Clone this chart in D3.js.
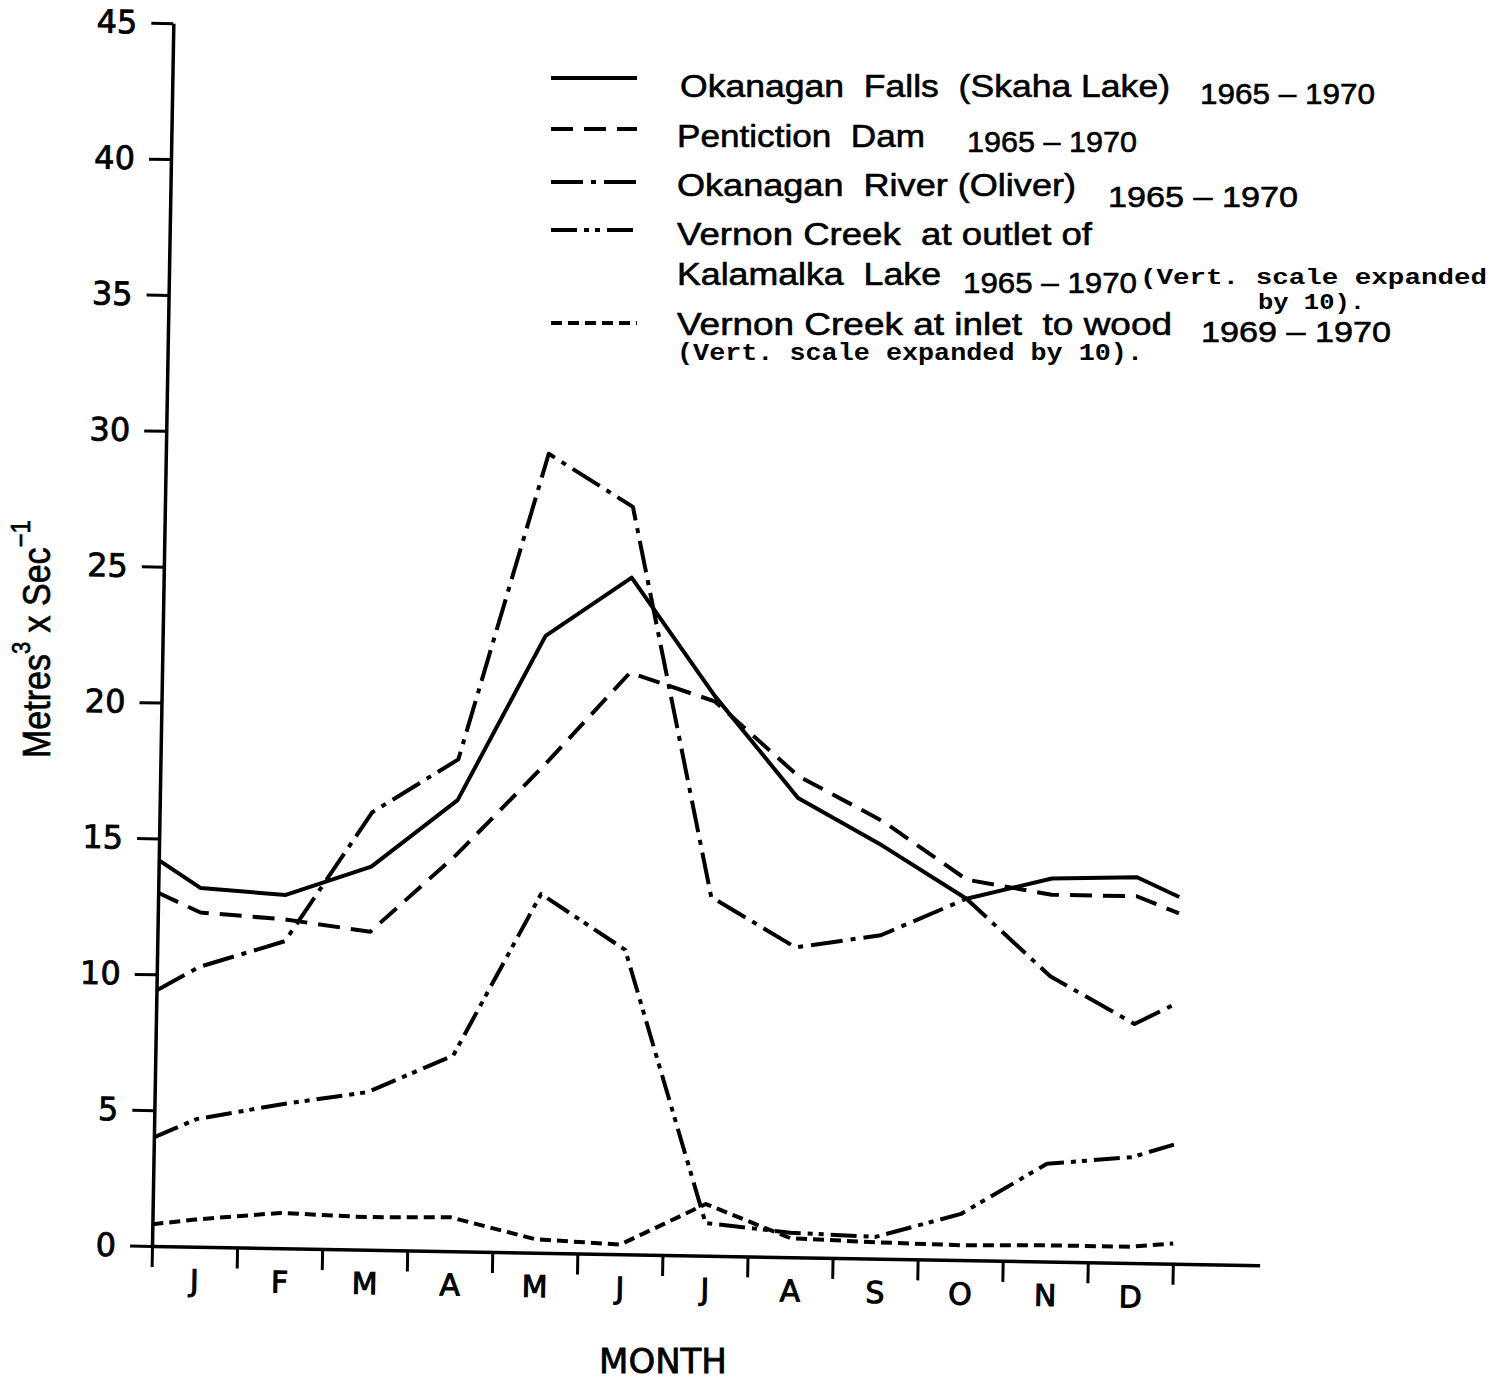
<!DOCTYPE html>
<html>
<head>
<meta charset="utf-8">
<script src="https://cdn.jsdelivr.net/npm/d3@7"></script>
<style>
  html, body { margin: 0; padding: 0; background: #ffffff; }
  svg { display: block; }
  text { white-space: pre; }
</style>
</head>
<body>
<svg id="chart" width="1509" height="1380"></svg>
<script>
// ---------------- DATA ----------------
const monthLabels = ["J", "F", "M", "A", "M", "J", "J", "A", "S", "O", "N", "D"];
// sample positions in month units (0 = start of January, 12 = end of December)
const monthPositions = [0, 0.5, 1.5, 2.5, 3.5, 4.5, 5.5, 6.5, 7.5, 8.5, 9.5, 10.5, 11.5, 12];
const yTickValues = [0, 5, 10, 15, 20, 25, 30, 35, 40, 45];

const okanaganFalls   = [14.2, 13.2, 13.0, 14.1, 16.6, 22.7, 24.9, 20.6, 16.9, 15.2, 13.3, 14.1, 14.2, 13.5];
const pentictonDam    = [13.0, 12.3, 12.1, 11.7, 14.6, 17.9, 21.4, 20.4, 17.7, 16.1, 14.0, 13.5, 13.5, 12.9];
const okanaganRiver   = [9.4, 10.3, 11.3, 16.1, 18.1, 29.4, 27.5, 13.2, 11.4, 11.9, 13.3, 10.5, 8.8, 9.6];
const vernonOutlet    = [4.0, 4.7, 5.3, 5.8, 7.2, 13.2, 11.2, 1.2, 0.9, 0.8, 1.7, 3.6, 3.9, 4.4];
const vernonInlet     = [0.8, 1.0, 1.3, 1.2, 1.25, 0.5, 0.35, 1.9, 0.7, 0.6, 0.55, 0.6, 0.6, 0.75];

const seriesNames = [
  "Okanagan  Falls  (Skaha Lake)",
  "Pentiction  Dam",
  "Okanagan  River (Oliver)",
  "Vernon Creek  at outlet of",
  "Vernon Creek at inlet  to wood"
];
const seriesPeriods = ["1965 – 1970", "1965 – 1970", "1965 – 1970", "1965 – 1970", "1969 – 1970"];
const yAxisTitle = ["Metres", "3", " x ", "Sec", "−1"];
const xAxisTitle = "MONTH";

// ---------------- LAYOUT ----------------
const svg = d3.select("#chart");
const originX = 152, originY = 1246;
const tilt = 1.0; // the original scan is slightly rotated

const x = d3.scaleLinear().domain([0, 12]).range([originX, originX + 1021]);
const y = d3.scaleLinear().domain([0, 45]).range([originY, originY - 1223]);

const plot = svg.append("g").attr("transform", `rotate(${tilt}, ${originX}, ${originY})`);

// y axis
const yAxis = d3.axisLeft(y).tickValues(yTickValues).tickSize(22).tickSizeOuter(0).tickPadding(14);
const gy = plot.append("g").attr("transform", `translate(${originX},0)`).call(yAxis);
gy.select(".domain").attr("stroke", "#000").attr("stroke-width", 3.5);
gy.selectAll(".tick line").attr("stroke", "#000").attr("stroke-width", 3);
gy.selectAll(".tick text")
  .attr("font-family", "'DejaVu Sans', sans-serif")
  .attr("font-size", 32)
  .attr("fill", "#000")
  .attr("stroke", "#000").attr("stroke-width", 0.8);

// x axis (ticks at month boundaries)
const xLine = x.copy().domain([0, 13.02]).range([x(0), x(13.02)]);
const xAxis = d3.axisBottom(xLine).tickValues(d3.range(0, 13)).tickSize(21).tickSizeOuter(0).tickFormat("");
const gx = plot.append("g").attr("transform", `translate(0,${y(0)})`).call(xAxis);
gx.select(".domain").attr("stroke", "#000").attr("stroke-width", 3.5);
gx.selectAll(".tick line").attr("stroke", "#000").attr("stroke-width", 3);

// month labels (centred in each month)
const xLabelAxis = d3.axisBottom(x)
  .tickValues(monthLabels.map((d, i) => i + 0.5))
  .tickSize(0).tickPadding(23)
  .tickFormat((d, i) => monthLabels[i]);
const gxl = plot.append("g").attr("transform", `translate(0,${y(0)})`).call(xLabelAxis);
gxl.select(".domain").remove();
gxl.selectAll(".tick text")
  .attr("font-family", "'DejaVu Sans', sans-serif")
  .attr("font-size", 30)
  .attr("fill", "#000")
  .attr("stroke", "#000").attr("stroke-width", 1);

// series
const series = [
  { name: seriesNames[0], values: okanaganFalls, dash: null },
  { name: seriesNames[1], values: pentictonDam,  dash: "22,11" },
  { name: seriesNames[2], values: okanaganRiver, dash: "32,8,5,8" },
  { name: seriesNames[3], values: vernonOutlet,  dash: "26,7,5,6,5,7" },
  { name: seriesNames[4], values: vernonInlet,   dash: "11,6" }
];

const line = d3.line()
  .x((d, i) => x(monthPositions[i]))
  .y(d => y(d));

plot.append("g").selectAll("path")
  .data(series)
  .join("path")
  .attr("d", d => line(d.values))
  .attr("fill", "none")
  .attr("stroke", "#000")
  .attr("stroke-width", 4)
  .attr("stroke-linejoin", "round")
  .attr("stroke-dasharray", d => d.dash);

// ---------------- LEGEND ----------------
const legendSampleY = [78, 129, 182, 230, 323];
const legend = svg.append("g");
legend.selectAll("line")
  .data(series)
  .join("line")
  .attr("x1", 551).attr("x2", 637)
  .attr("y1", (d, i) => legendSampleY[i]).attr("y2", (d, i) => legendSampleY[i])
  .attr("stroke", "#000").attr("stroke-width", 4)
  .attr("stroke-dasharray", d => d.dash);

function addText(str, px, py, size, width, family, weight, sw) {
  const t = legend.append("text")
    .attr("x", px).attr("y", py)
    .attr("font-family", family || "'Liberation Sans', Arial, sans-serif")
    .attr("font-size", size)
    .attr("font-weight", weight || "normal")
    .attr("fill", "#000")
    .attr("stroke", "#000").attr("stroke-width", sw === undefined ? 0.6 : sw)
    .text(str);
  if (width) t.attr("textLength", width).attr("lengthAdjust", "spacingAndGlyphs");
  return t;
}
const mono = "'Liberation Mono', 'Courier New', monospace";

addText(seriesNames[0], 680, 97, 32, 490);
addText(seriesPeriods[0], 1200, 104, 30, 175);
addText(seriesNames[1], 677, 147, 32, 248);
addText(seriesPeriods[1], 967, 152, 30, 170);
addText(seriesNames[2], 677, 196, 32, 399);
addText(seriesPeriods[2], 1108, 207, 30, 190);
addText(seriesNames[3], 677, 245, 32, 415);
addText("Kalamalka  Lake", 677, 285, 32, 264);
addText(seriesPeriods[3], 963, 293, 30, 174);
addText("(Vert. scale expanded", 1140, 284, 22, 347, mono, "bold", 0);
addText("by 10).", 1258, 309, 22, 107, mono, "bold", 0);
addText(seriesNames[4], 677, 335, 32, 495);
addText(seriesPeriods[4], 1201, 342, 30, 190);
addText("(Vert. scale expanded by 10).", 677, 360, 24, 466, mono, "bold", 0);

// ---------------- AXIS TITLES ----------------
const yt = svg.append("text")
  .attr("transform", "translate(50,758) rotate(-90) scale(1,1.15)")
  .attr("font-family", "'Liberation Sans', Arial, sans-serif")
  .attr("font-size", 34)
  .attr("fill", "#000")
  .attr("stroke", "#000").attr("stroke-width", 0.6);
yt.append("tspan").text(yAxisTitle[0]);
yt.append("tspan").attr("font-size", 22).attr("dy", -17).text(yAxisTitle[1]);
yt.append("tspan").attr("font-size", 34).attr("dy", 17).text(yAxisTitle[2]);
yt.append("tspan").text(yAxisTitle[3]);
yt.append("tspan").attr("font-size", 24).attr("dy", -17).text(yAxisTitle[4]);

svg.append("text")
  .attr("x", 663).attr("y", 1373)
  .attr("text-anchor", "middle")
  .attr("font-family", "'DejaVu Sans', sans-serif")
  .attr("font-size", 34)
  .attr("fill", "#000")
  .attr("stroke", "#000").attr("stroke-width", 0.8)
  .text(xAxisTitle);
</script>
</body>
</html>
